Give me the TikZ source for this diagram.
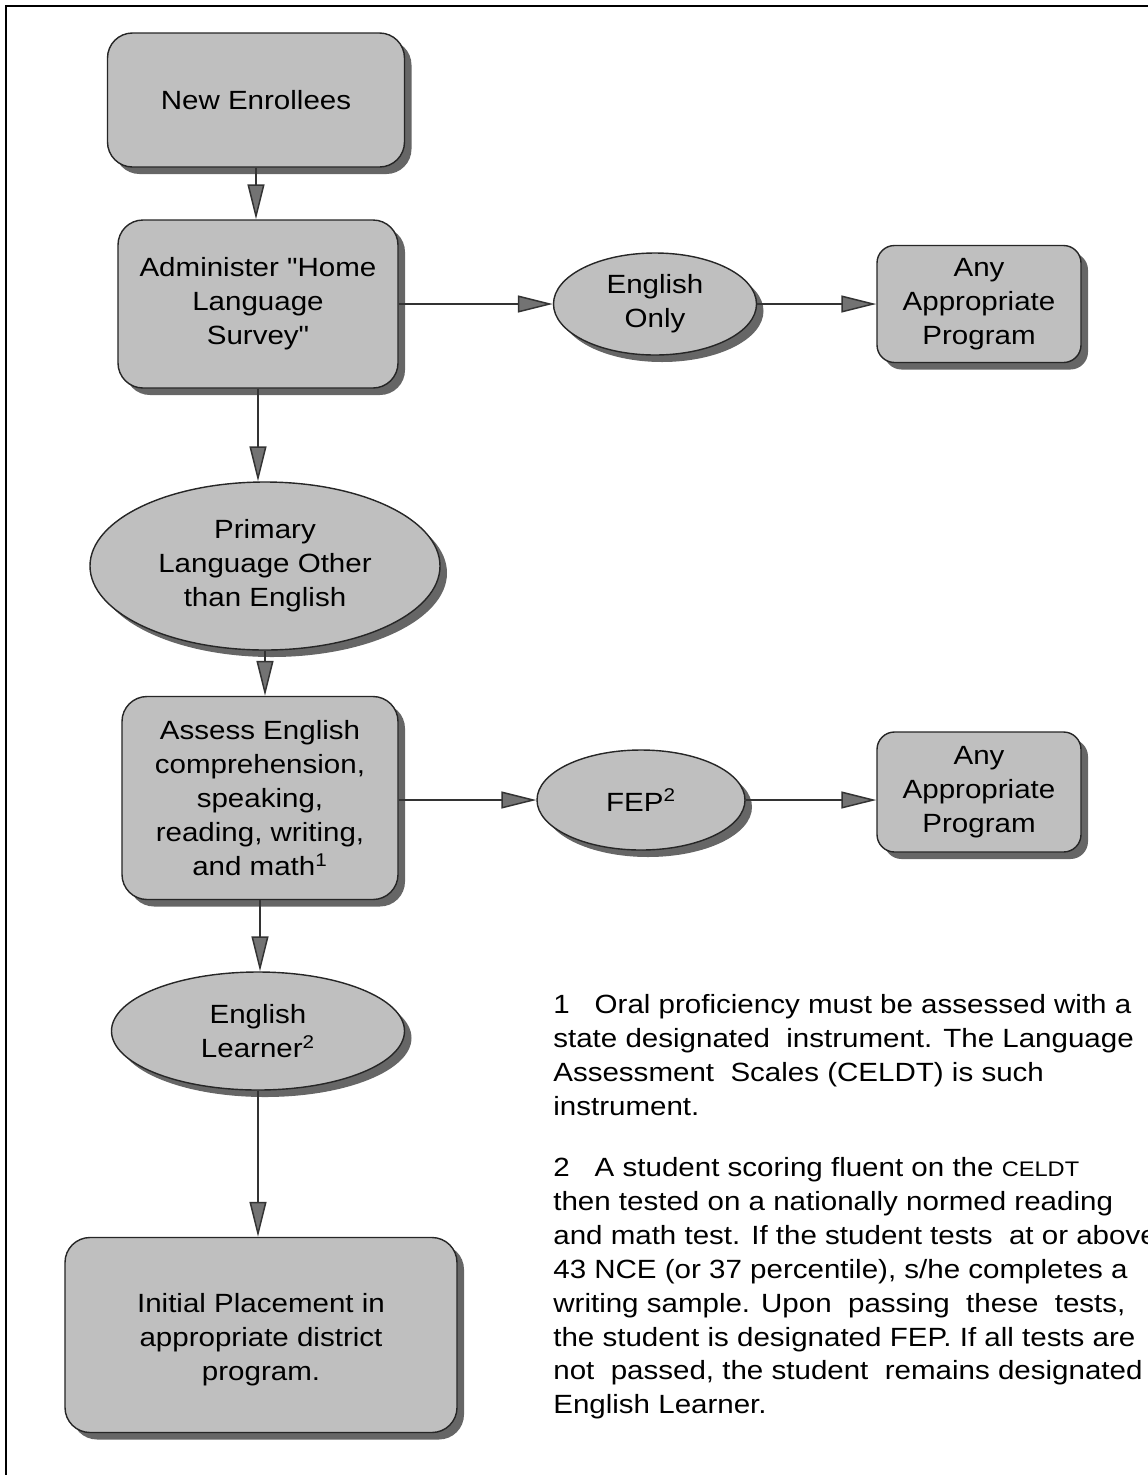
\documentclass[tikz,border=0pt]{standalone}
\usepackage{fontspec}
\newfontfamily\chartfont{Liberation Sans}[FakeStretch=1.12]
\usetikzlibrary{calc,arrows.meta,shapes.geometric,shadows}
\usepackage{xcolor}

\begin{document}
\begin{tikzpicture}[x=0.2mm, y=-0.2mm,
    font=\chartfont\fontsize{15}{19.3}\selectfont,
    flowbox/.style={draw=black!85, line width=0.8pt, fill=gray!50, rounded corners=5mm,
        align=center, inner sep=0pt,
        drop shadow={shadow xshift=1.4mm, shadow yshift=-1.4mm, fill=black!60, opacity=1}},
    smallbox/.style={flowbox, rounded corners=3.5mm},
    flowoval/.style={ellipse, draw=black!85, line width=0.8pt, fill=gray!50,
        align=center, inner sep=0pt,
        drop shadow={shadow xshift=1.4mm, shadow yshift=-1.4mm, fill=black!60, opacity=1}},
    link/.style={draw=black!80, line width=0.3mm,
        -{Triangle[length=7mm, width=3.4mm, fill=black!55]}},
    note/.style={anchor=north west, align=left, inner sep=0pt}
]

\useasboundingbox (0,0) rectangle (1148,1475);
\clip (0,0) rectangle (1148,1475);

\draw[line width=0.4mm] (6,1475) -- (6,6) -- (1148,6);

\node[flowbox, minimum width=59.4mm, minimum height=26.8mm] (enroll) at (256,100) {New Enrollees};
\node[flowbox, minimum width=56mm, minimum height=33.6mm] (survey) at (258,304) {Administer "Home\\Language\\Survey"};
\node[flowoval, minimum width=70mm, minimum height=33.6mm] (other) at (265,566) {Primary\\Language Other\\than English};
\node[flowbox, minimum width=55.2mm, minimum height=40.6mm] (assess) at (260,798) {Assess English\\comprehension,\\speaking,\\reading, writing,\\and math\textsuperscript{1}};
\node[flowoval, minimum width=58.6mm, minimum height=23.6mm] (learner) at (258,1031) {English\\Learner\textsuperscript{2}};
\node[flowbox, minimum width=78.4mm, minimum height=39mm] (place) at (261,1335) {\\[-1.2mm]Initial Placement in\\appropriate district\\program.};

\node[flowoval, minimum width=40.6mm, minimum height=20.4mm] (only) at (655,304) {English\\Only};
\node[smallbox, minimum width=40.8mm, minimum height=23.4mm] (anyA) at (979,304) {Any\\Appropriate\\Program};
\node[flowoval, minimum width=41.6mm, minimum height=20mm] (fep) at (641,800) {FEP\textsuperscript{2}};
\node[smallbox, minimum width=40.8mm, minimum height=24mm] (anyB) at (979,792) {Any\\Appropriate\\Program};

\draw[link] (enroll.south) -- (enroll.south |- survey.north);
\draw[link] (survey.south) -- (survey.south |- other.north);
\draw[link] (other.south) -- (other.south |- assess.north);
\draw[link] (assess.south) -- (assess.south |- learner.north);
\draw[link] (learner.south) -- (learner.south |- place.north);

\draw[link] (survey.east) -- (only.west);
\draw[link] (only.east) -- (anyA.west);
\draw[link] (assess.east |- fep.west) -- (fep.west);
\draw[link] (fep.east) -- (fep.east -| anyB.west);

\node[note] (note1) at (553,994) {1\hspace{5mm}Oral proficiency must be assessed with a\\state designated\ \ instrument. The Language\\Assessment\ \ Scales (CELDT) is such\\instrument.};
\node[note] (note2) at (553,1157) {2\hspace{5mm}A student scoring fluent on the {\fontsize{12}{19.3}\selectfont CELDT}\\then tested on a nationally normed reading\\and math test. If the student tests\ \ at or above\\43 NCE (or 37 percentile), s/he completes a\\writing sample. Upon\ \ passing\ \ these\ \ tests,\\the student is designated FEP. If all tests are\\not\ \ passed, the student\ \ remains designated\\English Learner.};

\end{tikzpicture}
\end{document}
